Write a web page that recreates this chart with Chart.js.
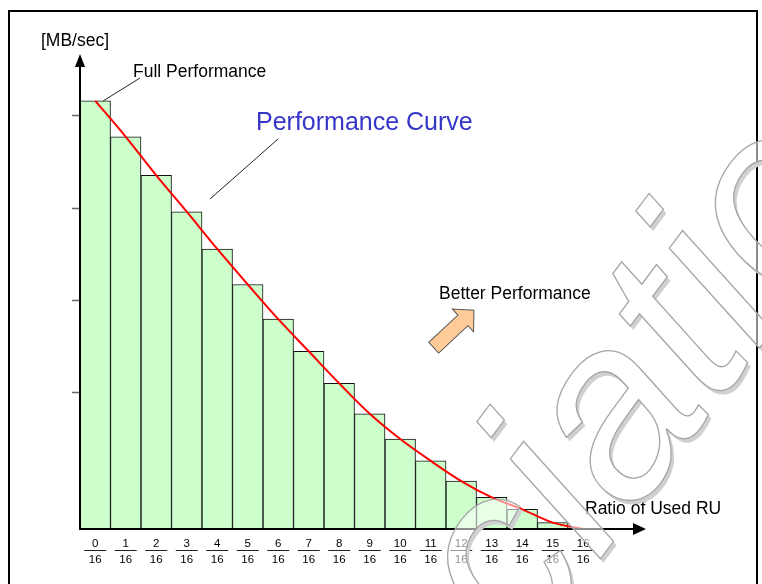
<!DOCTYPE html>
<html>
<head>
<meta charset="utf-8">
<script src="https://cdn.jsdelivr.net/npm/chart.js@4.4.1/dist/chart.umd.min.js"></script>
<style>
  html, body { margin: 0; padding: 0; background: #fff; }
  #wrap { width: 762px; height: 584px; position: relative; }
</style>
</head>
<body>
<div id="wrap"><canvas id="chart"></canvas></div>
<script>
// ratio of used RU (x categories)
const categories = ["0/16", "1/16", "2/16", "3/16", "4/16", "5/16", "6/16", "7/16", "8/16",
  "9/16", "10/16", "11/16", "12/16", "13/16", "14/16", "15/16", "16/16"];

// performance per step, full performance = 100
const perfValues = [100, 91.6, 82.6, 74.1, 65.4, 57.1, 49.0, 41.5, 34.0, 26.9, 21.0, 15.9, 11.2, 7.4, 4.6, 1.5, 0];

// unlabeled tick marks on the MB/sec axis
const yTicks = [32.0, 53.5, 75.0, 96.7];
const yMax = 110;

const FONT = "'Liberation Sans', Arial, sans-serif";
const watermark = "Association";

const decor = {
  id: "decor",
  afterDraw(chart) {
    const ctx = chart.ctx;
    const xs = chart.scales.x, ys = chart.scales.y;
    const x0 = chart.chartArea.left;
    const y0 = ys.getPixelForValue(0);

    ctx.save();

    // y tick marks
    ctx.strokeStyle = "#666";
    ctx.lineWidth = 1.5;
    yTicks.forEach(v => {
      const py = Math.round(ys.getPixelForValue(v)) + 0.5;
      ctx.beginPath();
      ctx.moveTo(x0 - 8, py);
      ctx.lineTo(x0, py);
      ctx.stroke();
    });

    // axes with arrow heads
    ctx.strokeStyle = "#000";
    ctx.fillStyle = "#000";
    ctx.lineWidth = 2;
    ctx.beginPath();
    ctx.moveTo(x0, y0 + 1);
    ctx.lineTo(x0, 66);
    ctx.moveTo(x0 - 1, y0);
    ctx.lineTo(634, y0);
    ctx.stroke();
    ctx.beginPath();
    ctx.moveTo(x0 - 5, 67); ctx.lineTo(x0 + 5, 67); ctx.lineTo(x0, 54);
    ctx.closePath(); ctx.fill();
    ctx.beginPath();
    ctx.moveTo(633, y0 - 6); ctx.lineTo(633, y0 + 6); ctx.lineTo(646, y0);
    ctx.closePath(); ctx.fill();

    // fraction labels under each bar
    ctx.font = "11.5px " + FONT;
    ctx.textAlign = "center";
    ctx.textBaseline = "alphabetic";
    ctx.fillStyle = "#000";
    ctx.strokeStyle = "#222";
    ctx.lineWidth = 1;
    categories.forEach((lab, i) => {
      const [num, den] = lab.split("/");
      const cx = xs.getPixelForValue(i);
      ctx.fillText(num, cx, 547);
      ctx.fillText(den, cx, 563);
      ctx.beginPath();
      ctx.moveTo(cx - 11, 550.5);
      ctx.lineTo(cx + 11, 550.5);
      ctx.stroke();
    });

    // texts
    ctx.textAlign = "left";
    ctx.fillStyle = "#000";
    ctx.font = "17.5px " + FONT;
    ctx.fillText("[MB/sec]", 41, 46);
    ctx.fillText("Full Performance", 133, 77);
    ctx.fillText("Better Performance", 439, 299);
    ctx.fillText("Ratio of Used RU", 585, 514);
    ctx.fillStyle = "#3535c8";
    ctx.font = "25px " + FONT;
    ctx.fillText("Performance Curve", 256, 130);

    // leader lines
    ctx.strokeStyle = "#222";
    ctx.lineWidth = 1;
    const topY = ys.getPixelForValue(perfValues[0]);
    ctx.beginPath();
    ctx.moveTo(xs.getPixelForValue(0) + 8, topY);
    ctx.lineTo(140, 78);
    ctx.moveTo(210, 199);
    ctx.lineTo(278, 139);
    ctx.stroke();

    // orange block arrow
    ctx.save();
    ctx.translate(433.7, 347.7);
    ctx.rotate(-43 * Math.PI / 180);
    ctx.beginPath();
    ctx.moveTo(0, -7.3); ctx.lineTo(40, -7.3); ctx.lineTo(40, -15.5);
    ctx.lineTo(55, 0);
    ctx.lineTo(40, 15.5); ctx.lineTo(40, 7.3); ctx.lineTo(0, 7.3);
    ctx.closePath();
    ctx.fillStyle = "#ffcc99";
    ctx.fill();
    ctx.strokeStyle = "#555";
    ctx.stroke();
    ctx.restore();

    // frame
    ctx.strokeStyle = "#000";
    ctx.lineWidth = 2;
    ctx.strokeRect(9, 11, 748, 600);

    // watermark
    const ang = -53 * Math.PI / 180;
    const ox = 598, oy = 562;
    const wfont = "italic 250px " + FONT;
    ctx.font = wfont;
    const pre = ctx.measureText("Assoc").width;
    const off = document.createElement("canvas");
    off.width = chart.width; off.height = chart.height;
    const o = off.getContext("2d");
    const put = (c, dx, dy, fn) => {
      c.save();
      c.translate(ox + dx, oy + dy);
      c.rotate(ang);
      c.font = wfont;
      c.textBaseline = "alphabetic";
      fn(c);
      c.restore();
    };
    o.fillStyle = "#d0d0d0";
    put(o, 3, 4, c => c.fillText(watermark, -pre, 0));
    o.globalCompositeOperation = "destination-out";
    o.fillStyle = "#000";
    put(o, 0, 0, c => c.fillText(watermark, -pre, 0));
    ctx.drawImage(off, 0, 0);
    put(ctx, 0, 0, c => {
      c.fillStyle = "rgba(255,255,255,0.55)";
      c.fillText(watermark, -pre, 0);
      c.strokeStyle = "#a6a6a6";
      c.lineWidth = 1.3;
      c.strokeText(watermark, -pre, 0);
    });

    ctx.restore();
  }
};

new Chart(document.getElementById("chart"), {
  type: "bar",
  data: {
    labels: categories,
    datasets: [
      {
        type: "line",
        data: perfValues,
        borderColor: "#ff0000",
        borderWidth: 2,
        pointRadius: 0,
        cubicInterpolationMode: "monotone",
        clip: false,
        order: 0
      },
      {
        data: perfValues,
        backgroundColor: "#ccffcc",
        borderColor: "#111",
        borderWidth: 1,
        barPercentage: 1,
        categoryPercentage: 1,
        order: 1
      }
    ]
  },
  options: {
    responsive: true,
    maintainAspectRatio: false,
    animation: false,
    layout: { padding: { left: 80, right: 163.5, top: 58, bottom: 55 } },
    plugins: { legend: { display: false }, tooltip: { enabled: false }, title: { display: false } },
    scales: {
      x: { display: false },
      y: { display: false, min: 0, max: yMax }
    }
  },
  plugins: [decor]
});
</script>
</body>
</html>
